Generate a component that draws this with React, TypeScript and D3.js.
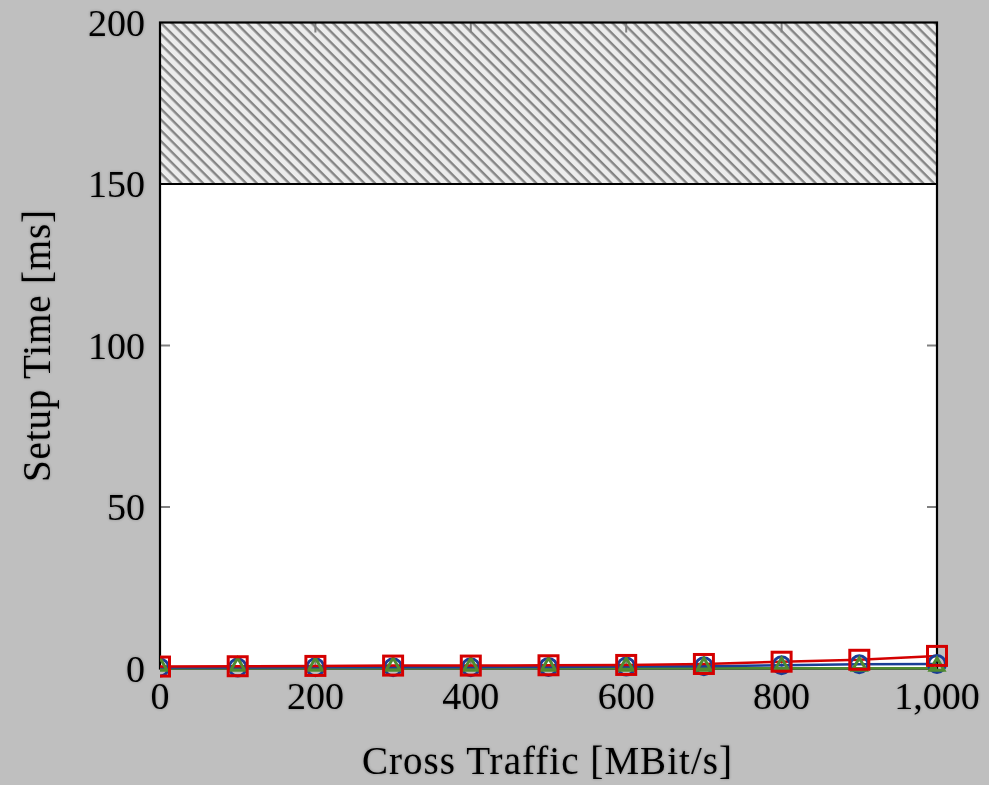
import React from "react";
import * as d3 from "d3";

const xValues = [0, 100, 200, 300, 400, 500, 600, 700, 800, 900, 1000];
const redSeries = [0.6, 0.7, 0.8, 0.9, 0.9, 1.0, 1.1, 1.4, 2.1, 2.7, 3.9];
const blueSeries = [0.3, 0.3, 0.4, 0.4, 0.4, 0.5, 0.6, 0.7, 1.0, 1.3, 1.4];
const greenSeries = [0.1, 0.1, 0.1, 0.1, 0.1, 0.1, 0.1, 0.1, 0.1, 0.1, 0.1];
const xTicks = [0, 200, 400, 600, 800, 1000];
const yTicks = [0, 50, 100, 150, 200];
const hatchFrom = 150;
const hatchTo = 200;

const W = 989, H = 785;
const L = 160, R = 937, T = 22.5, B = 668.5;

export default function App() {
  const x = d3.scaleLinear().domain([0, 1000]).range([L, R]);
  const y = d3.scaleLinear().domain([0, 200]).range([B, T]);
  const line = (vals: number[]) =>
    d3.line<number>().x((_, i) => x(xValues[i])).y((v) => y(v))(vals) || "";
  const fmt = d3.format(",");
  const font = "'Liberation Serif', 'DejaVu Serif', serif";
  const tri = d3.symbol().type(d3.symbolTriangle).size(85)() || "";
  return (
    <svg width={W} height={H} style={{ position: "absolute", left: 0, top: 0, background: "#bfbfbf" }}>
      <defs>
        <pattern id="hatch" patternUnits="userSpaceOnUse" width="7.6" height="7.6" patternTransform="rotate(45)">
          <rect width="7.6" height="7.6" fill="#ececec" />
          <rect x="0" y="0" width="7.6" height="2.4" fill="#858585" />
        </pattern>
        <clipPath id="plotclip">
          <rect x={L} y={T - 15} width={R - L + 15} height={B - T + 30} />
        </clipPath>
        <filter id="glow" x="-10%" y="-30%" width="120%" height="160%">
          <feGaussianBlur in="SourceAlpha" stdDeviation="1.6" result="b" />
          <feComponentTransfer in="b" result="s">
            <feFuncA type="linear" slope="0.3" />
          </feComponentTransfer>
          <feMerge>
            <feMergeNode in="s" />
            <feMergeNode in="SourceGraphic" />
          </feMerge>
        </filter>
      </defs>
      <rect x={0} y={0} width={W} height={H} fill="#bfbfbf" />
      <rect x={L} y={T} width={R - L} height={B - T} fill="#ffffff" />
      <rect x={L} y={y(hatchTo)} width={R - L} height={y(hatchFrom) - y(hatchTo)} fill="url(#hatch)" />
      {/* ticks */}
      {xTicks.slice(1, -1).map((t) => (
        <g key={"xt" + t}>
          <line x1={x(t)} x2={x(t)} y1={B} y2={B - 10} stroke="#808080" strokeWidth={2} />
          <line x1={x(t)} x2={x(t)} y1={T} y2={T + 10} stroke="#808080" strokeWidth={2} />
        </g>
      ))}
      {yTicks.slice(1, -1).map((t) => (
        <g key={"yt" + t}>
          <line x1={L} x2={L + 10} y1={y(t)} y2={y(t)} stroke="#808080" strokeWidth={2} />
          <line x1={R} x2={R - 10} y1={y(t)} y2={y(t)} stroke="#808080" strokeWidth={2} />
        </g>
      ))}
      <line x1={L} x2={R} y1={y(hatchFrom)} y2={y(hatchFrom)} stroke="#000" strokeWidth={2.2} />
      <rect x={L} y={T} width={R - L} height={B - T} fill="none" stroke="#000" strokeWidth={2.2} />
      {/* series */}
      <g clipPath="url(#plotclip)">
        <path d={line(greenSeries)} fill="none" stroke="#4f8a2f" strokeWidth={2.5} />
        <path d={line(blueSeries)} fill="none" stroke="#1a3e96" strokeWidth={2.5} />
        <path d={line(redSeries)} fill="none" stroke="#d40000" strokeWidth={2.5} />
        {blueSeries.map((v, i) => (
          <circle key={"b" + i} cx={x(xValues[i])} cy={y(v)} r={8.5} fill="none" stroke="#1a3e96" strokeWidth={3} />
        ))}
        {greenSeries.map((v, i) => (
          <path key={"g" + i} d={tri} transform={`translate(${x(xValues[i])},${y(v) - 2})`} fill="none" stroke="#4f8a2f" strokeWidth={3} />
        ))}
        {redSeries.map((v, i) => (
          <rect key={"r" + i} x={x(xValues[i]) - 9.5} y={y(v) - 9.5} width={19} height={19} fill="none" stroke="#d40000" strokeWidth={3} />
        ))}
      </g>
      {/* tick labels */}
      <g filter="url(#glow)">
        {xTicks.map((t) => (
          <text key={"xl" + t} x={x(t)} y={709} textAnchor="middle" fontFamily={font} fontSize={38} fill="#000">
            {fmt(t)}
          </text>
        ))}
        {yTicks.map((t) => (
          <text key={"yl" + t} x={145} y={y(t) + 13} textAnchor="end" fontFamily={font} fontSize={38} fill="#000">
            {t}
          </text>
        ))}
        <text x={547} y={774} textAnchor="middle" fontFamily={font} fontSize={39} textLength={370} lengthAdjust="spacing" fill="#000">
          Cross Traffic [MBit/s]
        </text>
        <text transform={`translate(50,346) rotate(-90)`} textAnchor="middle" fontFamily={font} fontSize={39} textLength={272} lengthAdjust="spacing" fill="#000">
          Setup Time [ms]
        </text>
      </g>
    </svg>
  );
}
